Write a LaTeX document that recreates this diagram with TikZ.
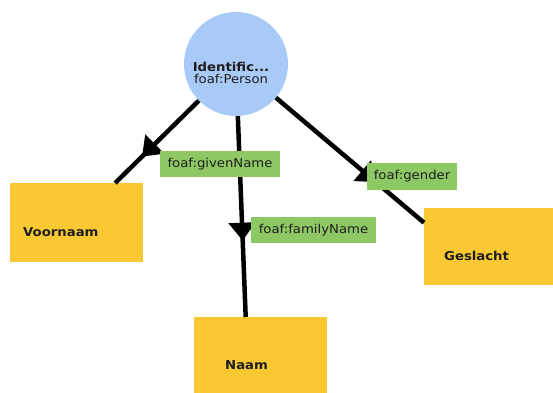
\documentclass[tikz,border=0pt]{standalone}
\usepackage{fontspec}
\setmainfont{DejaVu Sans}[FakeStretch=1.08]
\usetikzlibrary{arrows.meta,decorations.markings}
\definecolor{circfill}{HTML}{A9C9F7}
\definecolor{boxfill}{HTML}{F9C833}
\definecolor{lblfill}{HTML}{8DC865}
\definecolor{txt}{HTML}{1E1E1E}
\tikzset{
  cls/.style={circle, fill=circfill, minimum size=104bp, inner sep=0pt},
  entity/.style={fill=boxfill, inner sep=0pt, anchor=north west},
  entlabel/.style={font=\bfseries\fontsize{12.3}{13}\selectfont, text=txt, anchor=west, inner sep=0pt},
  clstext/.style={font=\fontsize{12.3}{12.5}\selectfont, text=txt, align=center, inner sep=0pt},
  prop/.style={fill=lblfill, inner sep=0pt, font=\fontsize{12.3}{13}\selectfont, text=txt},
  link/.style={line width=4.5bp, black, postaction=decorate,
    decoration={markings, mark=at position #1 with {\arrow{Triangle[length=18bp,width=26bp]}}}},
}
\begin{document}
\begin{tikzpicture}[x=1bp,y=-1bp]
  \clip (0,0) rectangle (553,392);
  \fill[white] (0,0) rectangle (553,392);
  % class circle
  \node[cls] (c) at (236,64) {};
  \node[clstext] (ctext) at (231,73) {\textbf{Identific...}\\foaf:Person};
  % entity boxes
  \node[entity, minimum width=133bp, minimum height=79bp] (voor) at (10,183) {};
  \node[entity, minimum width=133bp, minimum height=80bp] (naam) at (194,317) {};
  \node[entity, minimum width=132bp, minimum height=77bp] (ges) at (424,208) {};
  \node[entlabel] (voortext) at (23,232) {Voornaam};
  \node[entlabel] (naamtext) at (225,365) {Naam};
  \node[entlabel] (gestext) at (444,256) {Geslacht};
  % connectors
  \draw[link=0.68] (c) -- ([xshift=38.5bp]voor.north);
  \draw[link=0.62] (c.272) -- ([xshift=-15bp]naam.north);
  \draw[link=0.676] (c) -- ([yshift=24bp]ges.west);
  % property labels
  \node[prop, minimum width=120bp, minimum height=26bp] (given) at (220,164) {foaf:givenName};
  \node[prop, minimum width=125bp, minimum height=26bp] (family) at (313.5,230) {foaf:familyName};
  \node[prop, minimum width=90bp, minimum height=27bp] (gender) at (412,176.5) {foaf:gender};
\end{tikzpicture}
\end{document}
